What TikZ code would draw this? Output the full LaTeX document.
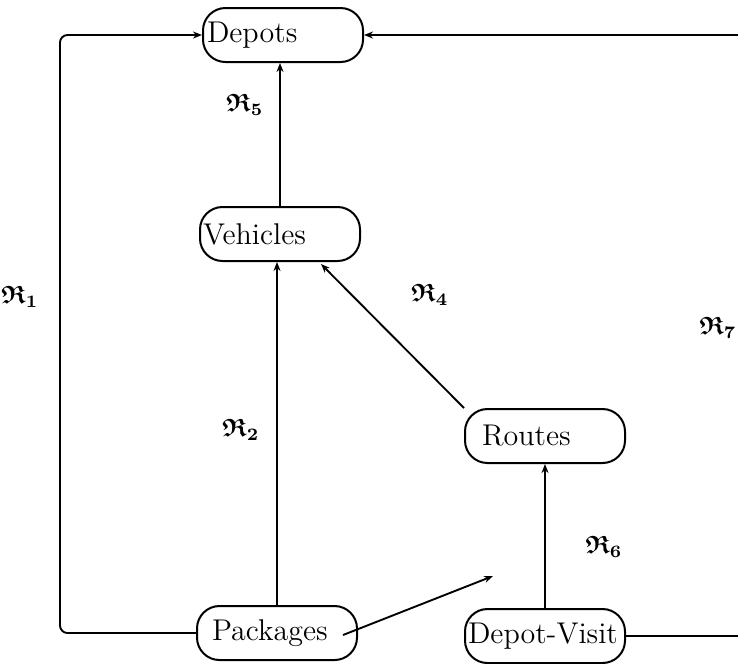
\documentclass[tikz,border=0pt]{standalone}
\usepackage{amssymb}
\usepackage{bm}
\usetikzlibrary{arrows.meta}
\tikzset{
  box/.style={draw, line width=0.8pt, rounded corners=9pt, inner xsep=0pt, inner ysep=0pt,
    minimum height=21.6pt, font=\fontsize{12}{14}\selectfont},
  conn/.style={line width=0.75pt, -{Stealth[length=3.6pt,width=2.8pt]}},
  lbl/.style={inner sep=0pt, font=\normalsize}
}
\newcommand{\boxtext}[2]{\makebox[64pt][l]{\hspace{#1}#2}}
\newcommand{\rel}[1]{$\bm{\mathfrak{R}}_{\bm{#1}}$}
\begin{document}
\begin{tikzpicture}[x=0.4pt,y=-0.4pt]
\useasboundingbox (0,0) rectangle (738,663);
\clip (0,0) rectangle (738,663);
\node[box] (Depots)   at (283,35)  {\boxtext{1.6pt}{Depots}};
\node[box] (Vehicles) at (280,234) {\boxtext{1.2pt}{Vehicles}};
\node[box] (Routes)   at (545,436) {\boxtext{6.8pt}{Routes}};
\node[box] (Packages) at (277,633) {\boxtext{6pt}{Packages}};
\node[box] (DV)       at (545,636) {\boxtext{1.2pt}{Depot-Visit}};

\coordinate (c1) at (60,300);
\coordinate (c7) at (745,300);
\coordinate (pr) at (343,635);
\coordinate (rt) at (493,576);
\coordinate (rs) at (464,408);
\coordinate (ve) at (321,264);

\draw[conn] (Vehicles.north) -- (Vehicles.north |- Depots.south);
\draw[conn] (Packages.north) -- (Packages.north |- Vehicles.south);
\draw[conn] (rs) -- (ve);
\draw[conn] (pr) -- (rt);
\draw[conn] (DV.north) -- (DV.north |- Routes.south);
\draw[conn, rounded corners=3pt] (Packages.west) -| (c1) |- (Depots.west);
\draw[conn, rounded corners=3pt] (DV.east) -| (c7) |- (Depots.east);

\node[lbl] (r5) at (245,105) {\rel{5}};
\node[lbl] (r4) at (430,295) {\rel{4}};
\node[lbl] (r1) at (20,297)  {\rel{1}};
\node[lbl] (r7) at (718,328) {\rel{7}};
\node[lbl] (r2) at (241,430) {\rel{2}};
\node[lbl] (r6) at (604,547) {\rel{6}};
\end{tikzpicture}
\end{document}
